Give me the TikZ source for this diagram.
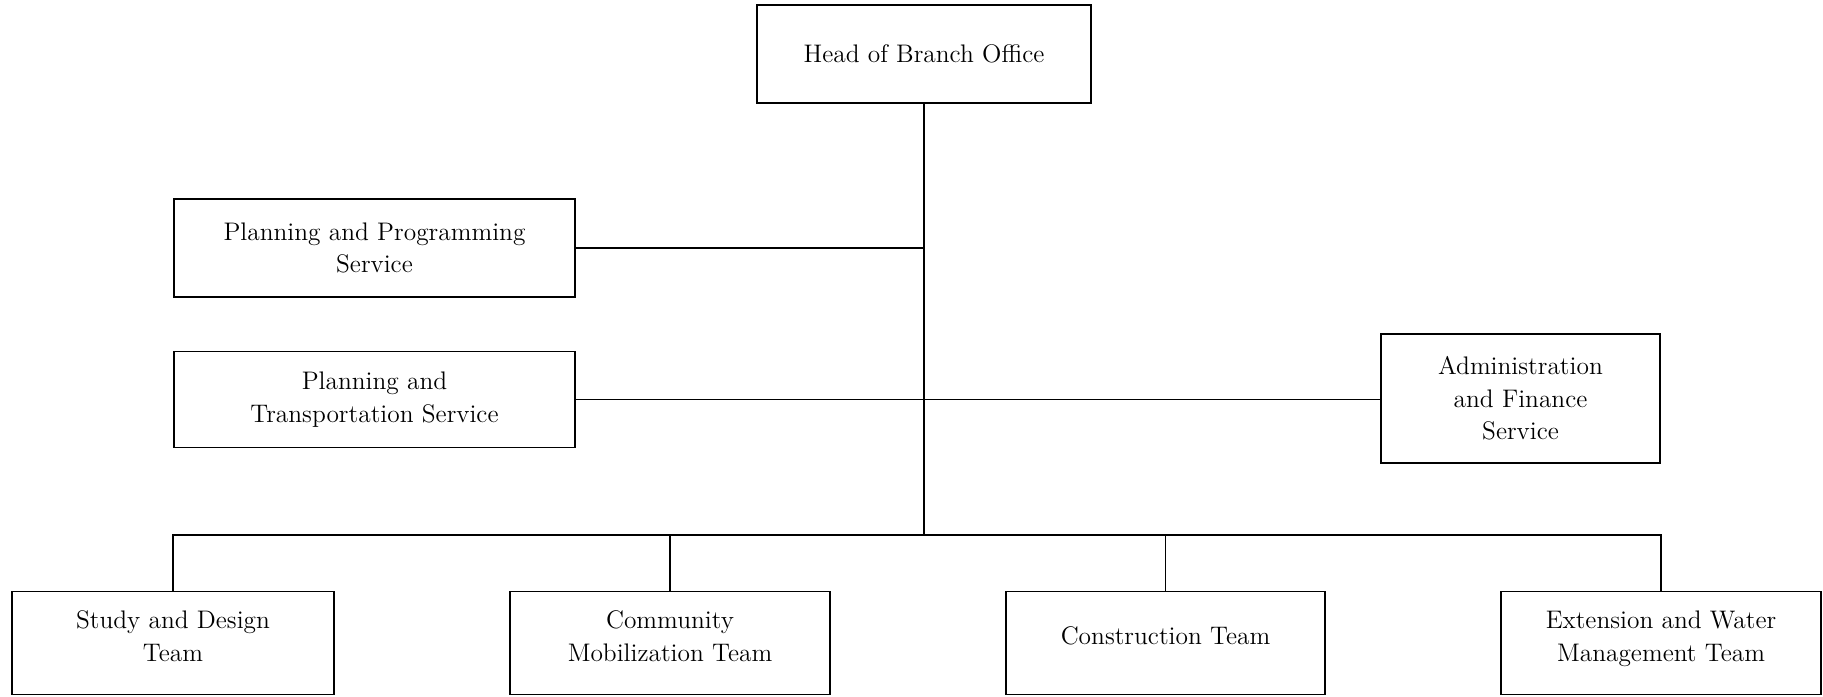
\documentclass[tikz,border=0pt]{standalone}
\usepackage{tikz}
\usetikzlibrary{positioning}

\begin{document}
\begin{tikzpicture}[
    x=0.5pt, y=-0.5pt,
    box/.style  = {draw, rectangle, line width=0.9pt, inner sep=2pt,
                   align=center, font=\fontsize{12.7}{16.3}\selectfont},
    team/.style = {box, minimum width=160pt, minimum height=51.5pt, text depth=7pt},
    link/.style = {line width=0.9pt}
  ]
    \useasboundingbox (0,0) rectangle (1823,696);

    \node[box, minimum width=167pt, minimum height=49pt]  (head)  at (924,54)
          {Head of Branch Office};
    \node[box, minimum width=200.5pt, minimum height=49pt] (plprog) at (374.5,248)
          {Planning and Programming\\Service};
    \node[box, minimum width=200.5pt, minimum height=48pt] (pltrans) at (374.5,399.5)
          {Planning and\\Transportation Service};
    \node[box, minimum width=139.5pt, minimum height=64.5pt] (admin) at (1520.5,398.5)
          {Administration\\and Finance\\Service};

    \node[team, minimum width=161pt] (study)  at (173,643)    {Study and Design\\Team};
    \node[team]                      (commun) at (670,643)    {Community\\Mobilization Team};
    \node[team, minimum width=159.5pt] (constr) at (1165.5,643) {Construction Team};
    \node[team]                      (extwat) at (1661,643)   {Extension and Water\\Management Team};

    \coordinate (hub) at (924,535);

    % trunk and side services
    \draw[link] (head.south) -- (hub);
    \draw[link] (plprog.east) -- (plprog.east -| hub);
    \draw[link] (pltrans.east) -- (pltrans.east -| admin.west);

    % teams
    \draw[link] (study.north) |- (hub) -| (extwat.north);
    \draw[link] (commun.north) -- (commun.north |- hub);
    \draw[link] (constr.north) -- (constr.north |- hub);
  \end{tikzpicture}
\end{document}
